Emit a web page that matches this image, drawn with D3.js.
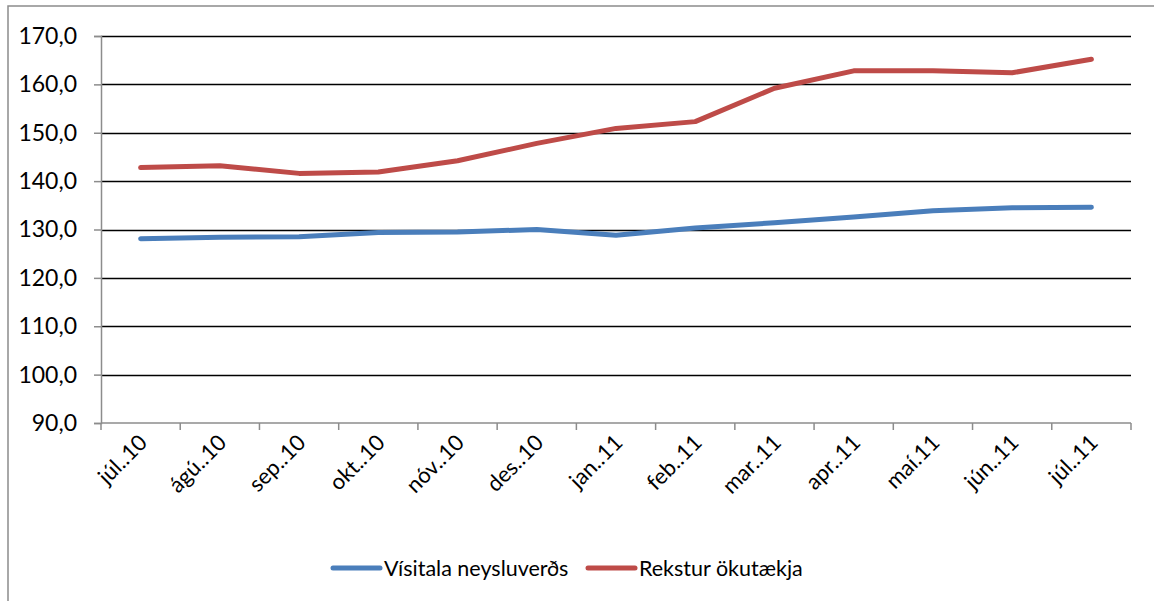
<!DOCTYPE html>
<html>
<head>
<meta charset="utf-8">
<script src="https://cdn.jsdelivr.net/npm/d3@7"></script>
<style>
  body { margin: 0; background: #fff; }
  text { font-family: Lato, "Open Sans", sans-serif; fill: #000; }
</style>
</head>
<body>
<div id="wrapper"></div>
<script>
const months = ["júl..10", "ágú..10", "sep..10", "okt..10", "nóv..10", "des..10", "jan..11",
  "feb..11", "mar..11", "apr..11", "maí.11", "jún..11", "júl..11"];
const visitala = [128.1, 128.4, 128.5, 129.4, 129.5, 130.0, 128.8, 130.3, 131.4, 132.6, 133.9, 134.5, 134.6];
const rekstur = [142.8, 143.2, 141.6, 141.9, 144.2, 147.8, 150.9, 152.3, 159.2, 162.8, 162.8, 162.4, 165.2];
const yTicks = [90, 100, 110, 120, 130, 140, 150, 160, 170];
const seriesNames = ["Vísitala neysluverðs", "Rekstur ökutækja"];
const seriesColors = ["#4a7ebb", "#be4b48"];

let dimensions = {
  width: 1154,
  height: 601,
  margin: { top: 36, right: 23, bottom: 178, left: 101 },
};
dimensions.boundedWidth = dimensions.width - dimensions.margin.left - dimensions.margin.right;
dimensions.boundedHeight = dimensions.height - dimensions.margin.top - dimensions.margin.bottom;

const svg = d3.select("#wrapper").append("svg")
  .attr("width", dimensions.width)
  .attr("height", dimensions.height);

// chart border
svg.append("rect")
  .attr("x", 8).attr("y", 6)
  .attr("width", dimensions.width).attr("height", dimensions.height)
  .attr("fill", "none").attr("stroke", "#8c8c8c").attr("stroke-width", 1.5);

const bounds = svg.append("g")
  .attr("transform", `translate(${dimensions.margin.left},${dimensions.margin.top})`);

const yScale = d3.scaleLinear().domain([90, 170]).range([dimensions.boundedHeight, 0]);
const xScale = d3.scaleBand().domain(months).range([0, dimensions.boundedWidth]);
const xMid = d => xScale(d) + xScale.bandwidth() / 2;

// gridlines
bounds.append("g").selectAll("line")
  .data(yTicks.filter(d => d > 90))
  .join("line")
  .attr("x1", 0).attr("x2", dimensions.boundedWidth)
  .attr("y1", d => Math.round(yScale(d)) + 0.5).attr("y2", d => Math.round(yScale(d)) + 0.5)
  .attr("stroke", "#000").attr("stroke-width", 1.5);

const yAxis = bounds.append("g")
  .call(d3.axisLeft(yScale).tickValues(yTicks).tickSize(7).tickPadding(17)
    .tickFormat(d => d3.format(".1f")(d).replace(".", ",")));
yAxis.select(".domain").attr("stroke", "#8c8c8c").attr("stroke-width", 1.5);
yAxis.selectAll(".tick line").attr("stroke", "#8c8c8c").attr("stroke-width", 1.5);
yAxis.selectAll("text").style("font-size", "23px").style("font-family", "Lato");

// x axis with ticks between categories
const xAxis = bounds.append("g")
  .attr("transform", `translate(0,${dimensions.boundedHeight})`);
xAxis.append("line")
  .attr("x1", 0).attr("x2", dimensions.boundedWidth)
  .attr("stroke", "#8c8c8c").attr("stroke-width", 1.5);
xAxis.selectAll(".xtick")
  .data(months.concat(["end"]))
  .join("line")
  .attr("class", "xtick")
  .attr("x1", (d, i) => i < months.length ? xScale(d) : dimensions.boundedWidth)
  .attr("x2", (d, i) => i < months.length ? xScale(d) : dimensions.boundedWidth)
  .attr("y1", 0).attr("y2", 7)
  .attr("stroke", "#8c8c8c").attr("stroke-width", 1.5);
xAxis.selectAll(".xlabel")
  .data(months)
  .join("text")
  .attr("class", "xlabel")
  .attr("text-anchor", "end")
  .attr("transform", d => `translate(${xMid(d) + 8},${21}) rotate(-45)`)
  .style("font-size", "22px")
  .text(d => d);

// lines
const series = [visitala, rekstur];
const lineGenerator = d3.line()
  .x((d, i) => xMid(months[i]))
  .y(d => yScale(d));
bounds.selectAll(".series")
  .data(series)
  .join("path")
  .attr("class", "series")
  .attr("d", d => lineGenerator(d))
  .attr("fill", "none")
  .attr("stroke", (d, i) => seriesColors[i])
  .attr("stroke-width", 5)
  .attr("stroke-linecap", "round")
  .attr("stroke-linejoin", "round");

// legend
const legendX = [333, 588];
const legend = svg.append("g").attr("transform", "translate(0,568)");
const item = legend.selectAll("g")
  .data(seriesNames)
  .join("g")
  .attr("transform", (d, i) => `translate(${legendX[i]},0)`);
item.append("line")
  .attr("x1", 0).attr("x2", 47)
  .attr("stroke", (d, i) => seriesColors[i])
  .attr("stroke-width", 5)
  .attr("stroke-linecap", "round");
item.append("text")
  .attr("x", 51).attr("dy", "0.35em")
  .style("font-size", "21.5px")
  .text(d => d);
</script>
</body>
</html>
